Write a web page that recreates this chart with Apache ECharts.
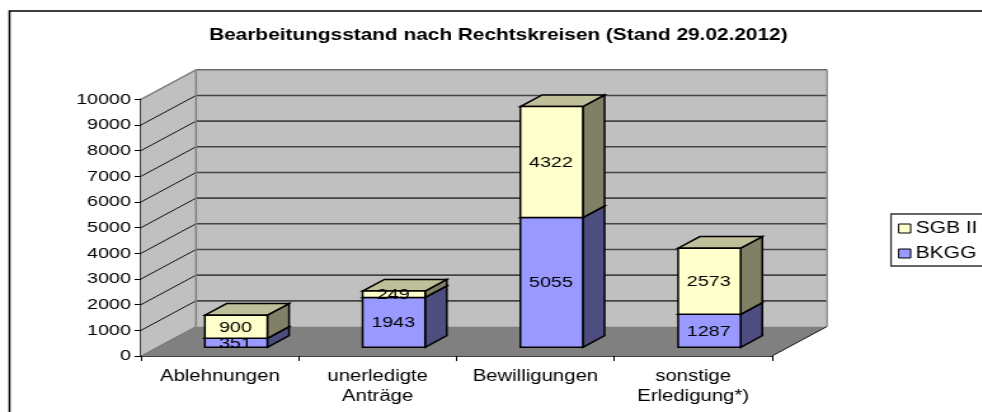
<!DOCTYPE html>
<html>
<head>
<meta charset="utf-8">
<title>Bearbeitungsstand nach Rechtskreisen</title>
<script src="https://cdn.jsdelivr.net/npm/echarts@6/dist/echarts.min.js"></script>
<style>
  html, body { margin: 0; padding: 0; background: #fff; overflow: hidden; }
  /* the original picture is stretched sideways, text included */
  #main { height: 412px; transform-origin: 0 0; }
</style>
</head>
<body>
<div id="main"></div>
<script>
var categories = ['Ablehnungen', 'unerledigte\nAnträge', 'Bewilligungen', 'sonstige\nErledigung*)'];
var bkggValues = [351, 1943, 5055, 1287];
var sgbValues = [900, 249, 4322, 2573];
var yMax = 10000;
var yStep = 1000;

var STRETCH = 1.27;
var FONT = '"Liberation Sans", Arial, sans-serif';
var el = document.getElementById('main');
el.style.width = Math.ceil(982 / STRETCH) + 'px';
el.style.transform = 'scaleX(' + STRETCH + ')';

function px(x) { return x / STRETCH; }

// depth of the 3d box, in screen pixels
var depthX = px(55);
var depthY = -29.5;
// where the bars sit inside that depth (0 front, 1 back wall)
var barFront = 0.295;
var barBack = 0.69;
var barShare = 0.396;

function poly(points, fill, stroke, lineWidth) {
  return {
    type: 'polygon',
    shape: { points: points },
    style: { fill: fill, stroke: stroke || null, lineWidth: lineWidth || 0, lineJoin: 'miter' }
  };
}

function line(x1, y1, x2, y2, color, width) {
  return {
    type: 'line',
    shape: { x1: x1, y1: y1, x2: x2, y2: y2 },
    style: { stroke: color, lineWidth: width }
  };
}

// back wall, side wall, floor and their grid lines
function renderWalls(params, api) {
  var band = api.size([1, 0])[0];
  var left = api.coord([0, 0])[0] - band / 2;
  var right = left + band * categories.length;
  var y0 = api.coord([0, 0])[1];
  var yTop = api.coord([0, yMax])[1];
  var kids = [];

  kids.push(poly([[left, y0], [left + depthX, y0 + depthY], [left + depthX, yTop + depthY], [left, yTop]], '#c0c0c0'));
  kids.push(poly([[left + depthX, y0 + depthY], [right + depthX, y0 + depthY], [right + depthX, yTop + depthY], [left + depthX, yTop + depthY]], '#c0c0c0'));
  kids.push(poly([[left, y0], [right, y0], [right + depthX, y0 + depthY], [left + depthX, y0 + depthY]], '#808080'));

  for (var v = yStep; v < yMax; v += yStep) {
    var y = api.coord([0, v])[1];
    kids.push(line(left, y, left + depthX, y + depthY, '#111', 1));
    kids.push(line(left + depthX, y + depthY, right + depthX, y + depthY, '#444', 1.6));
  }
  kids.push(line(left, yTop, left + depthX, yTop + depthY, '#808080', 1.5));
  kids.push(line(left + depthX, yTop + depthY, right + depthX, yTop + depthY, '#6a6a6a', 1.5));
  kids.push(line(left + depthX, yTop + depthY, left + depthX, y0 + depthY, '#808080', 1.5));
  kids.push(line(right + depthX, yTop + depthY, right + depthX, y0 + depthY, '#909090', 1.5));
  kids.push(line(left, y0, left + depthX, y0 + depthY, '#707070', 1));
  kids.push(line(right, y0, right + depthX, y0 + depthY, '#111', 1));

  return { type: 'group', children: kids };
}

function makeBarRenderer(front, side, top) {
  return function (params, api) {
    var band = api.size([1, 0])[0];
    var w = band * barShare;
    var p0 = api.coord([api.value(0), api.value(1)]);
    var p1 = api.coord([api.value(0), api.value(2)]);
    var x1 = p0[0] - w / 2 + depthX * barFront;
    var x2 = x1 + w;
    var yb = p0[1] + depthY * barFront;
    var yt = p1[1] + depthY * barFront;
    var dx = depthX * (barBack - barFront);
    var dy = depthY * (barBack - barFront);
    return {
      type: 'group',
      children: [
        poly([[x2, yb], [x2 + dx, yb + dy], [x2 + dx, yt + dy], [x2, yt]], side, '#000', 1.5),
        poly([[x1, yt], [x2, yt], [x2 + dx, yt + dy], [x1 + dx, yt + dy]], top, '#000', 1.5),
        poly([[x1, yb], [x2, yb], [x2, yt], [x1, yt]], front, '#000', 1.5),
        {
          type: 'text',
          z2: 10,
          style: {
            x: (x1 + x2) / 2 - 0.5,
            y: (yb + yt) / 2 + 0.5,
            text: String(api.value(3)),
            fill: '#000',
            font: '15.5px ' + FONT,
            align: 'center',
            verticalAlign: 'middle'
          }
        }
      ]
    };
  };
}

var bkggData = categories.map(function (c, i) {
  return [i, 0, bkggValues[i], bkggValues[i]];
});
var sgbData = categories.map(function (c, i) {
  return [i, bkggValues[i], bkggValues[i] + sgbValues[i], sgbValues[i]];
});

var chart = echarts.init(el, null, { renderer: 'canvas' });
chart.setOption({
  animation: false,
  backgroundColor: '#fff',
  textStyle: { fontFamily: FONT },
  title: {
    text: 'Bearbeitungsstand nach Rechtskreisen (Stand 29.02.2012)',
    left: px(492),
    top: 22,
    textAlign: 'center',
    textStyle: { fontFamily: FONT, fontSize: 16.4, fontWeight: 'bold', color: '#000' }
  },
  legend: {
    orient: 'vertical',
    left: px(891),
    top: 214,
    data: ['SGB II', 'BKGG'],
    icon: 'rect',
    itemWidth: px(12),
    itemHeight: 9,
    itemGap: 8,
    padding: [6, 10, 4, px(7)],
    borderColor: '#333',
    borderWidth: 1.3,
    backgroundColor: '#fff',
    selectedMode: false,
    itemStyle: { borderColor: '#000', borderWidth: 1 },
    textStyle: { fontFamily: FONT, fontSize: 16.5, color: '#000', padding: [0, 0, 0, -1] }
  },
  graphic: [{
    type: 'rect',
    silent: true,
    z: -10,
    shape: { x: px(9.5), y: 11, width: 2000, height: 1000 },
    style: { fill: 'transparent', stroke: '#000', lineWidth: 1.5 }
  }],
  grid: {
    left: px(141),
    right: Math.ceil(982 / STRETCH) - px(772),
    top: 99.3,
    height: 256.7
  },
  xAxis: {
    type: 'category',
    data: categories,
    boundaryGap: true,
    axisLine: { show: true, lineStyle: { color: '#000', width: 1.5 } },
    axisTick: { show: true, alignWithLabel: false, length: 5, lineStyle: { color: '#000', width: 1 } },
    axisLabel: { color: '#000', fontFamily: FONT, fontSize: 16, margin: 11, lineHeight: 20, interval: 0 }
  },
  yAxis: {
    type: 'value',
    min: 0,
    max: yMax,
    interval: yStep,
    axisLine: { show: true, lineStyle: { color: '#000', width: 1.5 } },
    axisTick: { show: true, length: 5, lineStyle: { color: '#000', width: 1 } },
    axisLabel: {
      color: '#000',
      fontFamily: FONT,
      fontSize: 15.5,
      margin: 8,
      padding: [2, 0, 0, 0],
      formatter: function (v) { return String(v); }
    },
    splitLine: { show: false }
  },
  series: [
    {
      type: 'custom',
      name: 'walls',
      silent: true,
      z: 1,
      clip: false,
      data: [[0, 0]],
      encode: { x: 0, y: 1 },
      renderItem: renderWalls
    },
    {
      type: 'custom',
      name: 'BKGG',
      z: 2,
      clip: false,
      itemStyle: { color: '#9999ff' },
      data: bkggData,
      encode: { x: 0, y: [1, 2] },
      renderItem: makeBarRenderer('#9999ff', '#4d4d80', '#4d4d80')
    },
    {
      type: 'custom',
      name: 'SGB II',
      z: 3,
      clip: false,
      itemStyle: { color: '#ffffcc' },
      data: sgbData,
      encode: { x: 0, y: [1, 2] },
      renderItem: makeBarRenderer('#ffffcc', '#808066', '#bfbf99')
    }
  ]
});
</script>
</body>
</html>
